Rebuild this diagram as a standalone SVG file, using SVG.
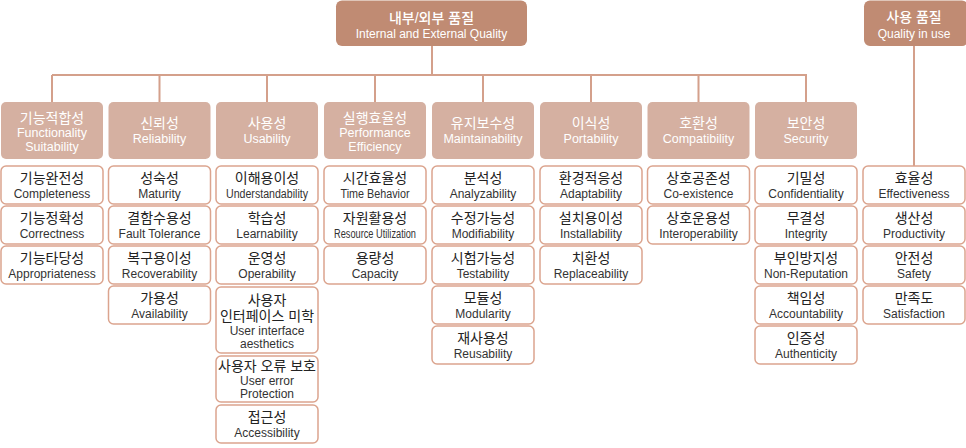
<svg xmlns="http://www.w3.org/2000/svg" width="966" height="448" viewBox="0 0 966 448">
<style>
text{font-family:"Liberation Sans","Noto Sans CJK KR",sans-serif;text-anchor:middle}
.ko{font-size:14px}
.en{font-size:12px}
.top rect{fill:#c08b73}
.top text{fill:#fff}
.top .ko{font-size:14px;font-weight:500}
.cat rect{fill:#d5b0a1}
.cat text{fill:#fff}
.cat .ko{font-size:14px}
.cat .en{font-size:12.5px}
.sub rect{fill:#fff;stroke:#dba48e;stroke-width:1.5}
.sub text{fill:#333}
.sub .ko{fill:#222}
.conn{stroke:#d4a08b;stroke-width:2;fill:none}
</style>
<g id="connectors" class="conn">
<path d="M432 46V75M52 75H807M52 75V102M159.5 75V102M267 75V102M375 75V102M483 75V102M591 75V102M698.5 75V102M806 75V102M914 46V166"/>
</g>
<g id="internal-external" class="top"><rect x="336" y="0.5" width="191" height="45.5" rx="6"/><text class="ko" x="431.5" y="23">내부/외부 품질</text><text class="en" x="431.5" y="38">Internal and External Quality</text></g>
<g id="quality-in-use" class="top"><rect x="864" y="0.5" width="104" height="45.5" rx="6"/><text class="ko" x="914" y="22">사용 품질</text><text class="en" x="914" y="38">Quality in use</text></g>

<g id="cat-functionality" class="cat"><rect x="1" y="102" width="102" height="57" rx="5"/><text class="ko" x="52" y="123">기능적합성</text><text class="en" x="52" y="137">Functionality<tspan x="52" dy="14">Suitability</tspan></text></g>
<g id="cat-reliability" class="cat"><rect x="108.5" y="102" width="102" height="57" rx="5"/><text class="ko" x="159.5" y="128">신뢰성</text><text class="en" x="159.5" y="143">Reliability</text></g>
<g id="cat-usability" class="cat"><rect x="216" y="102" width="102" height="57" rx="5"/><text class="ko" x="267" y="128">사용성</text><text class="en" x="267" y="143">Usability</text></g>
<g id="cat-performance" class="cat"><rect x="324" y="102" width="102" height="57" rx="5"/><text class="ko" x="375" y="123">실행효율성</text><text class="en" x="375" y="137">Performance<tspan x="375" dy="14">Efficiency</tspan></text></g>
<g id="cat-maintainability" class="cat"><rect x="432" y="102" width="102" height="57" rx="5"/><text class="ko" x="483" y="128">유지보수성</text><text class="en" x="483" y="143">Maintainability</text></g>
<g id="cat-portability" class="cat"><rect x="540" y="102" width="102" height="57" rx="5"/><text class="ko" x="591" y="128">이식성</text><text class="en" x="591" y="143">Portability</text></g>
<g id="cat-compatibility" class="cat"><rect x="647.5" y="102" width="102" height="57" rx="5"/><text class="ko" x="698.5" y="128">호환성</text><text class="en" x="698.5" y="143">Compatibility</text></g>
<g id="cat-security" class="cat"><rect x="755" y="102" width="102" height="57" rx="5"/><text class="ko" x="806" y="128">보안성</text><text class="en" x="806" y="143">Security</text></g>

<g id="completeness" class="sub"><rect x="1" y="166" width="102" height="38" rx="5"/><text class="ko" x="52" y="183">기능완전성</text><text class="en" x="52" y="198">Completeness</text></g>
<g id="correctness" class="sub"><rect x="1" y="206" width="102" height="38" rx="5"/><text class="ko" x="52" y="223">기능정확성</text><text class="en" x="52" y="238">Correctness</text></g>
<g id="appropriateness" class="sub"><rect x="1" y="246" width="102" height="38" rx="5"/><text class="ko" x="52" y="263">기능타당성</text><text class="en" x="52" y="278">Appropriateness</text></g>

<g id="maturity" class="sub"><rect x="108.5" y="166" width="102" height="38" rx="5"/><text class="ko" x="159.5" y="183">성숙성</text><text class="en" x="159.5" y="198">Maturity</text></g>
<g id="fault-tolerance" class="sub"><rect x="108.5" y="206" width="102" height="38" rx="5"/><text class="ko" x="159.5" y="223">결함수용성</text><text class="en" x="159.5" y="238">Fault Tolerance</text></g>
<g id="recoverability" class="sub"><rect x="108.5" y="246" width="102" height="38" rx="5"/><text class="ko" x="159.5" y="263">복구용이성</text><text class="en" x="159.5" y="278">Recoverability</text></g>
<g id="availability" class="sub"><rect x="108.5" y="286" width="102" height="38" rx="5"/><text class="ko" x="159.5" y="303">가용성</text><text class="en" x="159.5" y="318">Availability</text></g>

<g id="understandability" class="sub"><rect x="216" y="166" width="102" height="38" rx="5"/><text class="ko" x="267" y="183">이해용이성</text><text class="en" x="267" y="198" textLength="82" lengthAdjust="spacingAndGlyphs">Understandability</text></g>
<g id="learnability" class="sub"><rect x="216" y="206" width="102" height="38" rx="5"/><text class="ko" x="267" y="223">학습성</text><text class="en" x="267" y="238">Learnability</text></g>
<g id="operability" class="sub"><rect x="216" y="246" width="102" height="38" rx="5"/><text class="ko" x="267" y="263">운영성</text><text class="en" x="267" y="278">Operability</text></g>
<g id="ui-aesthetics" class="sub"><rect x="216" y="287" width="102" height="66" rx="5"/><text class="ko" x="267" y="304.5">사용자<tspan x="267" dy="16">인터페이스 미학</tspan></text><text class="en" x="267" y="335">User interface<tspan x="267" dy="13">aesthetics</tspan></text></g>
<g id="user-error-protection" class="sub"><rect x="216" y="356" width="102" height="46" rx="5"/><text class="ko" x="267" y="371">사용자 오류 보호</text><text class="en" x="267" y="385">User error<tspan x="267" dy="13">Protection</tspan></text></g>
<g id="accessibility" class="sub"><rect x="216" y="405" width="102" height="38" rx="5"/><text class="ko" x="267" y="422">접근성</text><text class="en" x="267" y="437">Accessibility</text></g>

<g id="time-behavior" class="sub"><rect x="324" y="166" width="102" height="38" rx="5"/><text class="ko" x="375" y="183">시간효율성</text><text class="en" x="375" y="198" textLength="69" lengthAdjust="spacingAndGlyphs">Time Behavior</text></g>
<g id="resource-utilization" class="sub"><rect x="324" y="206" width="102" height="38" rx="5"/><text class="ko" x="375" y="223">자원활용성</text><text class="en" x="375" y="238" textLength="82" lengthAdjust="spacingAndGlyphs">Resource Utilization</text></g>
<g id="capacity" class="sub"><rect x="324" y="246" width="102" height="38" rx="5"/><text class="ko" x="375" y="263">용량성</text><text class="en" x="375" y="278">Capacity</text></g>

<g id="analyzability" class="sub"><rect x="432" y="166" width="102" height="38" rx="5"/><text class="ko" x="483" y="183">분석성</text><text class="en" x="483" y="198">Analyzability</text></g>
<g id="modifiability" class="sub"><rect x="432" y="206" width="102" height="38" rx="5"/><text class="ko" x="483" y="223">수정가능성</text><text class="en" x="483" y="238">Modifiability</text></g>
<g id="testability" class="sub"><rect x="432" y="246" width="102" height="38" rx="5"/><text class="ko" x="483" y="263">시험가능성</text><text class="en" x="483" y="278">Testability</text></g>
<g id="modularity" class="sub"><rect x="432" y="286" width="102" height="38" rx="5"/><text class="ko" x="483" y="303">모듈성</text><text class="en" x="483" y="318">Modularity</text></g>
<g id="reusability" class="sub"><rect x="432" y="326" width="102" height="38" rx="5"/><text class="ko" x="483" y="343">재사용성</text><text class="en" x="483" y="358">Reusability</text></g>

<g id="adaptability" class="sub"><rect x="540" y="166" width="102" height="38" rx="5"/><text class="ko" x="591" y="183">환경적응성</text><text class="en" x="591" y="198">Adaptability</text></g>
<g id="installability" class="sub"><rect x="540" y="206" width="102" height="38" rx="5"/><text class="ko" x="591" y="223">설치용이성</text><text class="en" x="591" y="238">Installability</text></g>
<g id="replaceability" class="sub"><rect x="540" y="246" width="102" height="38" rx="5"/><text class="ko" x="591" y="263">치환성</text><text class="en" x="591" y="278">Replaceability</text></g>

<g id="co-existence" class="sub"><rect x="647.5" y="166" width="102" height="38" rx="5"/><text class="ko" x="698.5" y="183">상호공존성</text><text class="en" x="698.5" y="198">Co-existence</text></g>
<g id="interoperability" class="sub"><rect x="647.5" y="206" width="102" height="38" rx="5"/><text class="ko" x="698.5" y="223">상호운용성</text><text class="en" x="698.5" y="238">Interoperability</text></g>

<g id="confidentiality" class="sub"><rect x="755" y="166" width="102" height="38" rx="5"/><text class="ko" x="806" y="183">기밀성</text><text class="en" x="806" y="198">Confidentiality</text></g>
<g id="integrity" class="sub"><rect x="755" y="206" width="102" height="38" rx="5"/><text class="ko" x="806" y="223">무결성</text><text class="en" x="806" y="238">Integrity</text></g>
<g id="non-reputation" class="sub"><rect x="755" y="246" width="102" height="38" rx="5"/><text class="ko" x="806" y="263">부인방지성</text><text class="en" x="806" y="278">Non-Reputation</text></g>
<g id="accountability" class="sub"><rect x="755" y="286" width="102" height="38" rx="5"/><text class="ko" x="806" y="303">책임성</text><text class="en" x="806" y="318">Accountability</text></g>
<g id="authenticity" class="sub"><rect x="755" y="326" width="102" height="38" rx="5"/><text class="ko" x="806" y="343">인증성</text><text class="en" x="806" y="358">Authenticity</text></g>

<g id="effectiveness" class="sub"><rect x="863" y="166" width="102" height="38" rx="5"/><text class="ko" x="914" y="183">효율성</text><text class="en" x="914" y="198">Effectiveness</text></g>
<g id="productivity" class="sub"><rect x="863" y="206" width="102" height="38" rx="5"/><text class="ko" x="914" y="223">생산성</text><text class="en" x="914" y="238">Productivity</text></g>
<g id="safety" class="sub"><rect x="863" y="246" width="102" height="38" rx="5"/><text class="ko" x="914" y="263">안전성</text><text class="en" x="914" y="278">Safety</text></g>
<g id="satisfaction" class="sub"><rect x="863" y="286" width="102" height="38" rx="5"/><text class="ko" x="914" y="303">만족도</text><text class="en" x="914" y="318">Satisfaction</text></g>
</svg>
